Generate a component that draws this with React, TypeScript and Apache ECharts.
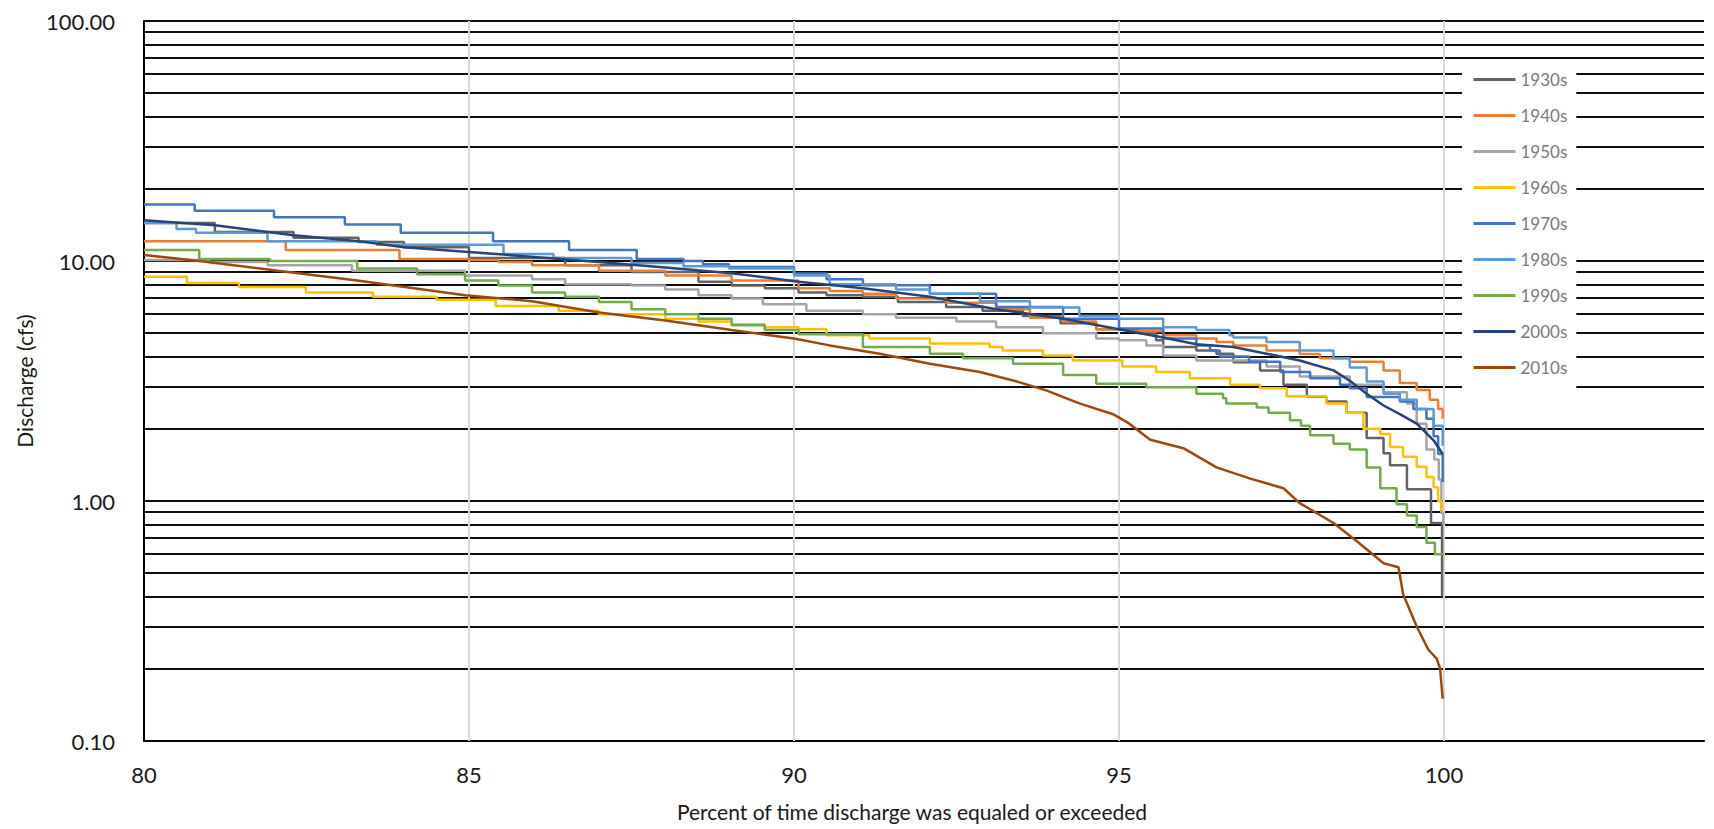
import { useEffect, useRef } from 'react'
import * as echarts from 'echarts'

// decades shown in the legend, in order
const decades = ['1930s', '1940s', '1950s', '1960s', '1970s', '1980s', '1990s', '2000s', '2010s']
const colors = ['#636363', '#ED7D31', '#A5A5A5', '#FFC000', '#4472C4', '#5B9BD5', '#70AD47', '#264478', '#9E480E']

// [percent exceeded, discharge cfs]
const d1930s = [
  [80, 14.4], [81.09, 13.2], [82.3, 12.5], [83.3, 12.0], [84.0, 11.4], [85.0, 10.3], [86.48, 9.6],
  [87.5, 9.0], [88.53, 8.2], [89.04, 7.9], [89.55, 7.7], [90.07, 7.4], [90.5, 7.2], [91.06, 7.1],
  [91.6, 6.75], [92.34, 6.43], [92.9, 6.2], [93.52, 5.9], [94.1, 5.5], [94.65, 5.2], [95.3, 5.0],
  [95.57, 4.68], [95.68, 4.38], [96.19, 4.24], [96.5, 4.11], [96.76, 3.79], [97.17, 3.5],
  [97.53, 3.05], [97.89, 2.72], [98.19, 2.6], [98.5, 2.33], [98.81, 1.83], [99.07, 1.58],
  [99.17, 1.41], [99.43, 1.12], [99.8, 0.81], [99.97, 0.4]
]
const d1940s = [
  [80, 12.1], [82.18, 11.1], [83.93, 10.2], [85.0, 10.1], [85.45, 9.9], [85.97, 9.6], [87.0, 9.1],
  [88.02, 8.7], [89.04, 8.3], [90.07, 7.7], [90.55, 7.5], [91.06, 7.3], [91.57, 6.98], [92.34, 6.7],
  [93.11, 6.3], [93.63, 5.8], [94.14, 5.6], [94.65, 5.2], [95.16, 5.1], [95.68, 4.9], [96.19, 4.75],
  [96.5, 4.6], [96.76, 4.45], [97.27, 4.24], [97.78, 4.1], [98.09, 3.93], [98.55, 3.8], [99.07, 3.5],
  [99.32, 3.1], [99.58, 2.9], [99.78, 2.64], [99.91, 2.42], [99.98, 2.2]
]
const d1950s = [
  [80, 10.1], [81.0, 9.9], [81.9, 9.6], [83.2, 9.1], [84.94, 8.7], [85.97, 8.4], [86.48, 8.0],
  [87.5, 7.9], [88.02, 7.6], [88.53, 7.2], [89.04, 6.98], [89.52, 6.6], [90.19, 6.2], [91.06, 6.0],
  [91.57, 5.8], [92.5, 5.6], [93.11, 5.3], [93.83, 5.0], [94.65, 4.75], [95.0, 4.68], [95.42, 4.45],
  [95.68, 4.04], [96.19, 3.85], [97.27, 3.63], [97.78, 3.3], [98.55, 3.05], [99.07, 2.84],
  [99.43, 2.55], [99.58, 2.1], [99.73, 1.64], [99.85, 1.49], [99.92, 1.23], [99.96, 0.89],
  [99.99, 0.8]
]
const d1960s = [
  [80, 8.6], [80.66, 8.1], [81.46, 7.8], [82.49, 7.4], [83.52, 7.1], [84.5, 6.9], [85.41, 6.5],
  [86.38, 6.2], [87.0, 6.0], [88.02, 5.75], [88.53, 5.6], [89.04, 5.45], [89.55, 5.3], [90.07, 5.2],
  [90.5, 4.9], [91.16, 4.75], [92.09, 4.53], [93.01, 4.38], [93.21, 4.24], [93.83, 4.04],
  [94.29, 3.85], [95.05, 3.63], [95.57, 3.45], [96.09, 3.25], [96.71, 3.05], [97.17, 2.95],
  [97.58, 2.73], [98.19, 2.55], [98.5, 2.33], [98.76, 2.0], [99.02, 1.9], [99.17, 1.68],
  [99.37, 1.53], [99.58, 1.39], [99.73, 1.26], [99.84, 1.14], [99.91, 1.0], [99.96, 0.9]
]
const d1970s = [
  [80, 17.2], [80.78, 16.2], [82.0, 15.2], [83.09, 14.2], [83.95, 13.1], [85.37, 12.1],
  [86.54, 11.1], [87.58, 10.2], [88.3, 10.0], [88.6, 9.7], [89.0, 9.44], [90.0, 8.86], [90.5, 8.4],
  [91.06, 7.92], [92.09, 7.31], [93.11, 6.43], [94.14, 5.75], [95.0, 5.23], [95.68, 4.75],
  [96.19, 4.45], [96.4, 4.24], [96.55, 4.0], [97.0, 3.8], [97.48, 3.45], [97.94, 3.25], [98.4, 3.05],
  [98.55, 2.95], [98.81, 2.71], [99.32, 2.6], [99.53, 2.42], [99.73, 2.2], [99.84, 1.86],
  [99.91, 1.57], [99.98, 1.2]
]
const d1980s = [
  [80, 14.4], [80.5, 13.6], [80.8, 13.1], [81.9, 12.1], [83.58, 11.7], [85.53, 10.7], [86.3, 10.3],
  [87.5, 9.8], [88.3, 9.5], [89.0, 9.3], [90.0, 8.7], [90.55, 8.0], [91.57, 7.6], [92.09, 7.3],
  [92.86, 6.8], [93.63, 6.4], [94.39, 5.9], [95.0, 5.75], [95.68, 5.3], [96.19, 5.16], [96.7, 4.9],
  [96.76, 4.8], [97.27, 4.6], [97.78, 4.24], [98.3, 3.93], [98.55, 3.6], [98.81, 3.15],
  [99.07, 2.8], [99.32, 2.64], [99.58, 2.42], [99.84, 2.06], [99.98, 1.7]
]
const d1990s = [
  [80, 11.1], [80.85, 10.2], [81.94, 10.0], [83.28, 9.3], [84.2, 8.8], [84.94, 8.3], [85.45, 7.9],
  [85.97, 7.4], [86.48, 7.1], [87.0, 6.75], [87.5, 6.3], [88.02, 6.0], [88.53, 5.75], [89.04, 5.4],
  [89.55, 5.16], [90.07, 4.95], [91.06, 4.38], [92.09, 4.11], [92.6, 3.93], [93.37, 3.73],
  [94.14, 3.35], [94.65, 3.08], [95.42, 2.98], [96.19, 2.8], [96.6, 2.68], [96.65, 2.55],
  [97.12, 2.45], [97.3, 2.33], [97.63, 2.17], [97.8, 2.06], [97.94, 1.88], [98.3, 1.73],
  [98.55, 1.64], [98.81, 1.38], [99.02, 1.13], [99.27, 0.97], [99.43, 0.87], [99.58, 0.78],
  [99.73, 0.67], [99.86, 0.6], [100, 0.6]
]
const d2000s = [
  [80, 14.8], [81.09, 14.1], [82.3, 12.8], [83.3, 12.1], [84.0, 11.4], [85.0, 10.9], [86.0, 10.4],
  [87.0, 9.9], [88.02, 9.4], [89.04, 8.9], [90.07, 8.2], [91.06, 7.7], [92.09, 7.1], [93.11, 6.3],
  [94.14, 5.75], [95.0, 5.2], [95.68, 4.8], [96.19, 4.5], [96.76, 4.38], [97.27, 4.11],
  [97.78, 3.85], [98.3, 3.5], [98.55, 3.17], [98.81, 2.8], [99.07, 2.5], [99.32, 2.3], [99.58, 2.1],
  [99.84, 1.79], [99.98, 1.57]
]
const d2010s = [
  [80, 10.6], [80.85, 10.0], [82.06, 9.1], [83.28, 8.3], [84.94, 7.2], [85.97, 6.8], [87.0, 6.1],
  [88.02, 5.65], [89.04, 5.16], [90.0, 4.75], [90.55, 4.45], [91.32, 4.11], [92.09, 3.73],
  [92.86, 3.45], [93.37, 3.18], [93.88, 2.89], [94.39, 2.55], [94.91, 2.3], [95.16, 2.1],
  [95.48, 1.8], [95.99, 1.66], [96.5, 1.38], [97.02, 1.24], [97.53, 1.13], [97.78, 0.98],
  [98.3, 0.81], [98.66, 0.68], [99.07, 0.55], [99.3, 0.53], [99.37, 0.41], [99.58, 0.3],
  [99.76, 0.24], [99.89, 0.22], [99.94, 0.2], [99.98, 0.15]
]
const seriesValues = [d1930s, d1940s, d1950s, d1960s, d1970s, d1980s, d1990s, d2000s, d2010s]
const stepModes: (string | false)[] = ['end', 'end', 'end', 'end', 'end', 'end', 'end', false, false]

// gridlines
const hGridValues = [
  0.2, 0.3, 0.4, 0.5, 0.6, 0.7, 0.8, 0.9, 1, 2, 3, 4, 5, 6, 7, 8, 9, 10,
  20, 30, 40, 50, 60, 70, 80, 90, 100
]
const vGridValues = [85, 90, 95, 100]

const FONT = 'Lato, "Noto Sans", sans-serif'

export default function App() {
  const chartRef = useRef<HTMLDivElement>(null)

  useEffect(() => {
    const chart = echarts.init(chartRef.current, null, { renderer: 'svg' })

    const lines = decades.map((name, i) => ({
      name,
      type: 'line',
      data: seriesValues[i],
      step: stepModes[i],
      symbol: 'none',
      z: 3,
      color: colors[i],
      lineStyle: { color: colors[i], width: 2.5 },
    }))

    chart.setOption({
      animation: false,
      backgroundColor: '#fff',
      grid: { left: 144, right: 10, top: 21, bottom: 88 },
      legend: {
        data: decades,
        orient: 'vertical',
        left: 1462,
        top: 61,
        padding: [10, 9, 22, 10],
        backgroundColor: '#fff',
        itemWidth: 42,
        itemHeight: 14,
        itemGap: 19,
        itemStyle: { opacity: 0 },
        lineStyle: { width: 3 },
        textStyle: { fontFamily: FONT, fontSize: 17, color: '#7a7a7a', lineHeight: 14 },
      },
      xAxis: {
        type: 'value',
        min: 80,
        max: 104,
        interval: 5,
        name: 'Percent of time discharge was equaled or exceeded',
        nameLocation: 'middle',
        nameGap: 60,
        nameTextStyle: { fontFamily: FONT, fontSize: 21, color: '#1a1a1a', padding: [0, 24, 0, 0] },
        axisLine: { lineStyle: { color: '#000', width: 2 } },
        axisTick: { show: false },
        splitLine: { show: false },
        axisLabel: {
          fontFamily: FONT,
          fontSize: 22,
          color: '#1a1a1a',
          margin: 22,
          formatter: (v: number) => (v <= 100 ? String(v) : ''),
        },
      },
      yAxis: {
        type: 'log',
        logBase: 10,
        min: 0.1,
        max: 100,
        name: 'Discharge (cfs)',
        nameLocation: 'middle',
        nameRotate: 90,
        nameGap: 108,
        nameTextStyle: { fontFamily: FONT, fontSize: 21, color: '#1a1a1a' },
        axisLine: { show: true, lineStyle: { color: '#000', width: 2 } },
        axisTick: { show: false },
        splitLine: { show: false },
        minorSplitLine: { show: false },
        axisLabel: {
          fontFamily: FONT,
          fontSize: 22,
          color: '#1a1a1a',
          margin: 29,
          formatter: (v: number) => v.toFixed(2),
        },
      },
      series: [
        {
          name: 'hgrid',
          type: 'line',
          data: [],
          z: 1,
          markLine: {
            silent: true,
            z: 1,
            symbol: ['none', 'none'],
            label: { show: false },
            lineStyle: { color: '#0d0d0d', width: 2, type: 'solid' },
            emphasis: { disabled: true },
            data: hGridValues.map((v) => ({ yAxis: v })),
          },
        },
        {
          name: 'vgrid',
          type: 'line',
          data: [],
          z: 2,
          markLine: {
            silent: true,
            z: 2,
            symbol: ['none', 'none'],
            label: { show: false },
            lineStyle: { color: '#d9d9d9', width: 2, type: 'solid' },
            emphasis: { disabled: true },
            data: vGridValues.map((v) => ({ xAxis: v })),
          },
        },
        ...lines,
      ],
    })

    return () => {
      chart.dispose()
    }
  }, [])

  return (
    <div
      ref={chartRef}
      style={{ position: 'fixed', left: 0, top: 0, width: '1714px', height: '829px' }}
    />
  )
}
